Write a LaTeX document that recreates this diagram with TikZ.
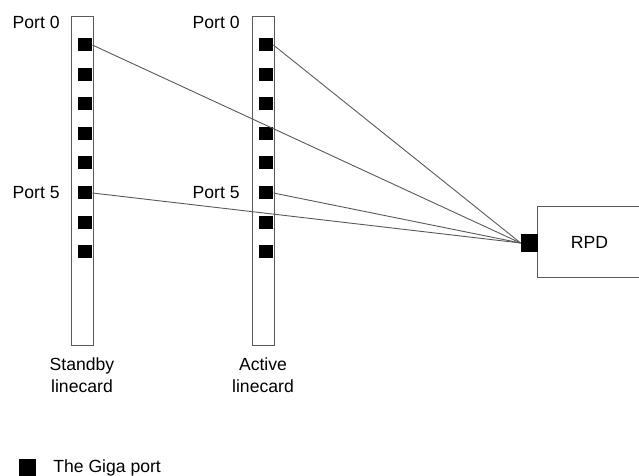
\documentclass[tikz,border=0pt]{standalone}
\usepackage{fontspec}
\setmainfont{Liberation Sans}
\usetikzlibrary{positioning}
\definecolor{wire}{rgb}{0.35,0.35,0.35}

\begin{document}
\begin{tikzpicture}[x=0.5pt,y=-0.5pt,
        font=\fontsize{8.8}{11}\selectfont,
        card/.style={draw=wire, line width=0.5pt, minimum width=11pt, minimum height=164.5pt, inner sep=0pt},
        port/.style={fill=black, minimum width=7pt, minimum height=6.5pt, inner sep=0pt},
        lbl/.style={anchor=east, inner sep=0pt},
        link/.style={wire, line width=0.45pt}]
        \useasboundingbox (0,0) rectangle (639,476);
        \clip (0,0) rectangle (639,476);

        % linecards
        \node[card] (standby) at (82,181.5) {};
        \node[card] (active) at (263,181.5) {};

        \node[port] (s0) at (85,45) {};
        \node[port] (s1) at (85,75) {};
        \node[port] (s2) at (85,104) {};
        \node[port] (s3) at (85,134) {};
        \node[port] (s4) at (85,163) {};
        \node[port] (s5) at (85,193) {};
        \node[port] (s6) at (85,223) {};
        \node[port] (s7) at (85,252) {};
        \node[port] (a0) at (266,45) {};
        \node[port] (a1) at (266,75) {};
        \node[port] (a2) at (266,104) {};
        \node[port] (a3) at (266,134) {};
        \node[port] (a4) at (266,163) {};
        \node[port] (a5) at (266,193) {};
        \node[port] (a6) at (266,223) {};
        \node[port] (a7) at (266,252) {};

        \node[lbl] (sp0) at (60,22) {Port 0};
        \node[lbl] (sp5) at (60,193) {Port 5};
        \node[lbl] (ap0) at (240,22) {Port 0};
        \node[lbl] (ap5) at (240,193) {Port 5};

        \node[align=center, inner sep=0pt, below=5.5pt of standby] (standbytxt) {Standby\\linecard};
        \node[align=center, inner sep=0pt, below=5.5pt of active] (activetxt) {Active\\linecard};

        % RPD
        \node[draw=wire, line width=0.5pt, minimum width=52.5pt, minimum height=35.5pt] (rpd) at (589.5,242.5) {RPD};
        \node[port, minimum width=8.5pt, minimum height=9pt] (giga) at (529.5,243) {};

        \draw[link] (s0.east) -- (giga.west);
        \draw[link] (s5.east) -- (giga.west);
        \draw[link] (a0.east) -- (giga.west);
        \draw[link] (a5.east) -- (giga.west);

        % legend
        \node[port, minimum width=8.5pt, minimum height=8.5pt] (key) at (27,468) {};
        \node[inner sep=0pt, right=8.5pt of key] (keytxt) {The Giga port};
    \end{tikzpicture}
\end{document}
